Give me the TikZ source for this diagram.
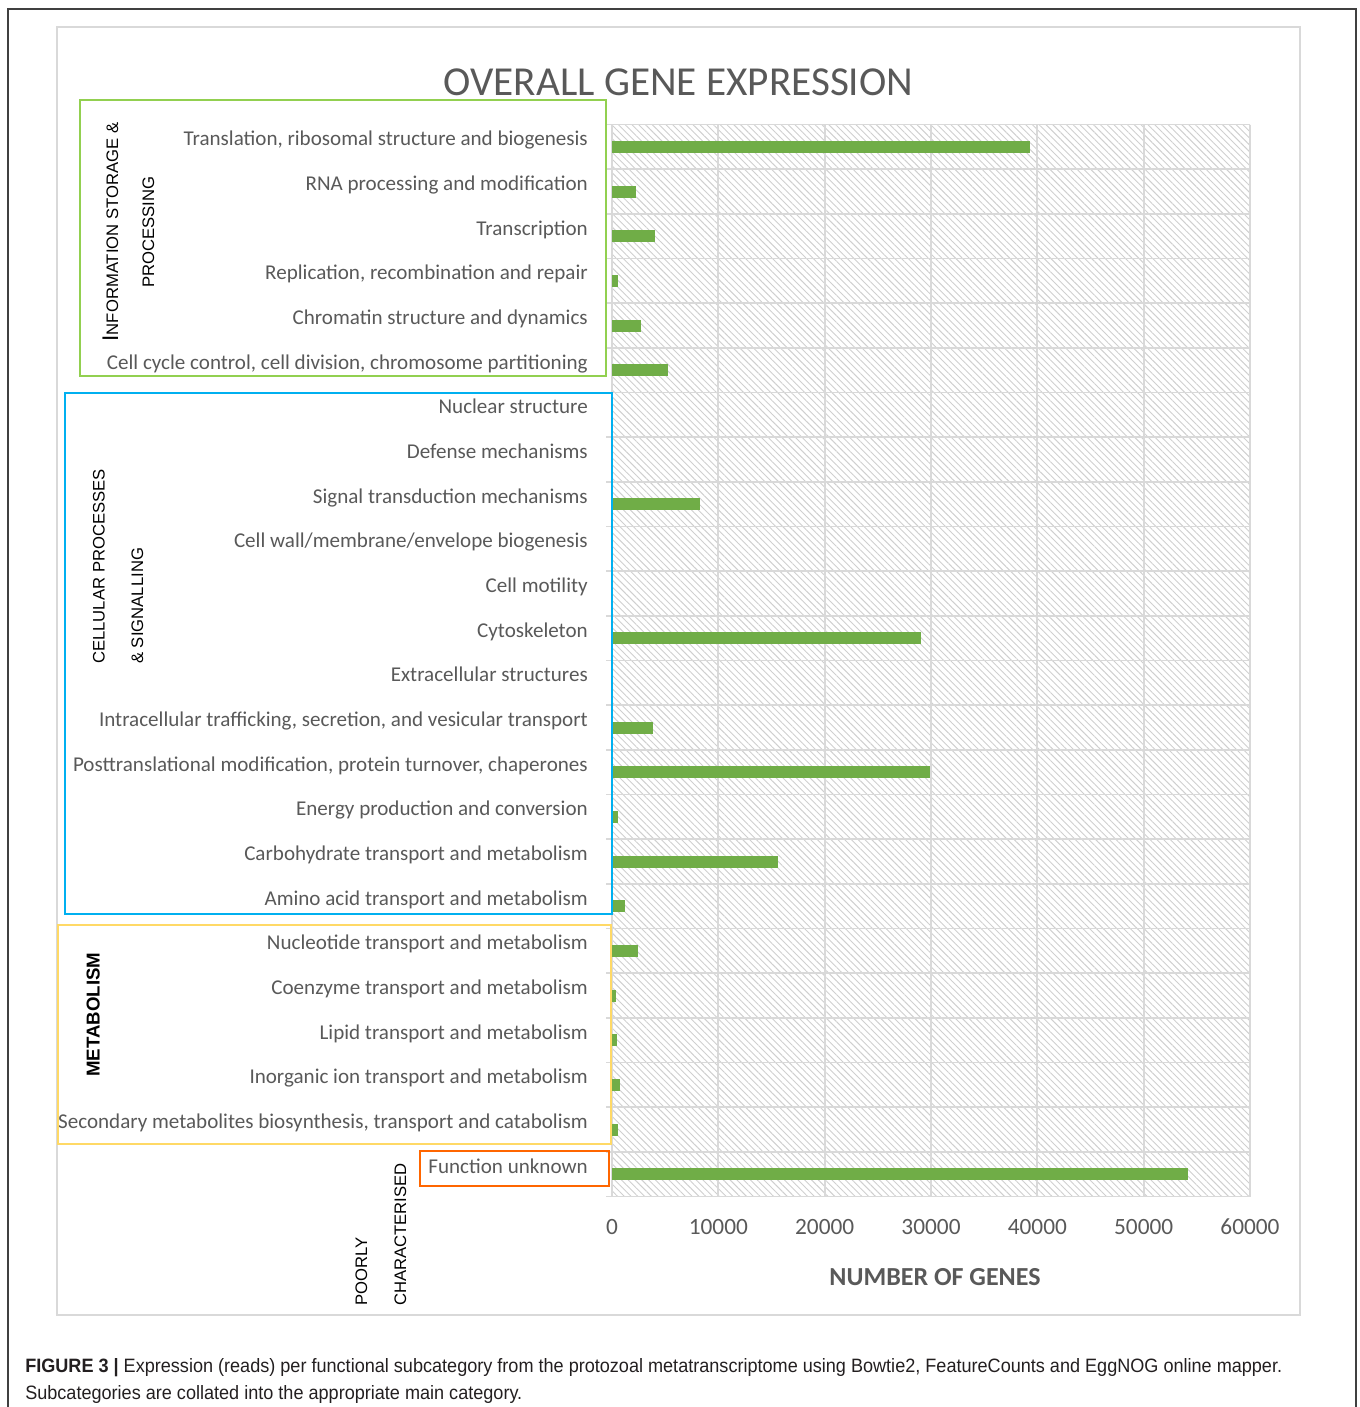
\documentclass[tikz,border=0pt]{standalone}
\usepackage{fontspec}
\setmainfont{Carlito}
\newfontfamily\arialFont{Liberation Sans}
\newfontfamily\captionFont[FakeStretch=0.935]{Liberation Sans}
\usetikzlibrary{patterns.meta}
\usepackage{xcolor}
\definecolor{barGreen}{HTML}{70AD47}
\definecolor{gridGrey}{HTML}{D9D9D9}
\definecolor{hatchGrey}{HTML}{CFCFCF}
\definecolor{textGrey}{HTML}{595959}
\definecolor{infoGreen}{HTML}{92D050}
\definecolor{cellBlue}{HTML}{00B0F0}
\definecolor{metaYellow}{HTML}{FFD966}
\definecolor{poorOrange}{HTML}{FF6600}
\definecolor{frameGrey}{HTML}{404040}
\definecolor{captionBlack}{HTML}{231F20}
\tikzset{
  catLabel/.style={
    anchor=base east,
    inner sep=0pt,
    text=textGrey,
    font=\fontsize{15.8}{18}\selectfont
  }
}
\tikzset{
  tickLabel/.style={
    anchor=base,
    inner sep=0pt,
    text=textGrey,
    font=\fontsize{17.5}{20}\selectfont
  }
}
\tikzset{
  groupLabel/.style={
    rotate=90,
    inner sep=0pt,
    text=black,
    font=\arialFont\fontsize{12.5}{15}\selectfont
  }
}
\tikzset{
  captionLine/.style={
    anchor=base west,
    inner sep=0pt,
    text=captionBlack,
    font=\captionFont\fontsize{14.5}{18}\selectfont
  }
}
\tikzset{
  groupBox/.style={
    line width=2.2pt
  }
}
\tikzset{
  gridLine/.style={
    draw=gridGrey,
    line width=1.4pt
  }
}

\begin{document}
\begin{tikzpicture}[x=0.75pt, y=-0.75pt]
  \useasboundingbox (0,0) rectangle (1360,1407);
  \draw[frameGrey, line width=1.1pt] (8,1420) -- (8,9) -- (1356,9) -- (1356,1420);
  \draw[gridGrey, line width=1.5pt] (57,27) rectangle (1300,1315);
  \node[text=textGrey, font=\fontsize{30.9}{36}\selectfont, anchor=base, inner sep=0pt]
    (title) at (678.5,95) {OVERALL GENE EXPRESSION};
  \fill[pattern={Lines[angle=-45,distance=3.6pt,line width=0.7pt]}, pattern color=hatchGrey]
    (612,124.5) rectangle (1250,1196.5);
  \foreach \k in {0,...,24}
    \draw[gridLine] (606,124.5+\k*44.667) -- (1250,124.5+\k*44.667);
  \foreach \v [count=\k from 0] in {0,10000,20000,30000,40000,50000,60000} {
    \draw[gridLine] (612+\k*106.33,124.5) -- (612+\k*106.33,1196.5);
    \node[tickLabel] (tick\k) at (612+\k*106.33,1234) {\v};
  }
  % values in thousands of genes
  \foreach \lab/\val [count=\i] in {
    {Translation, ribosomal structure and biogenesis}/39.3,
    {RNA processing and modification}/2.23,
    {Transcription}/4.0,
    {Replication, recombination and repair}/0.55,
    {Chromatin structure and dynamics}/2.7,
    {Cell cycle control, cell division, chromosome partitioning}/5.25,
    {Nuclear structure}/0,
    {Defense mechanisms}/0,
    {Signal transduction mechanisms}/8.31,
    {Cell wall/membrane/envelope biogenesis}/0,
    {Cell motility}/0,
    {Cytoskeleton}/29.1,
    {Extracellular structures}/0,
    {Intracellular trafficking, secretion, and vesicular transport}/3.87,
    {Posttranslational modification, protein turnover, chaperones}/29.94,
    {Energy production and conversion}/0.55,
    {Carbohydrate transport and metabolism}/15.62,
    {Amino acid transport and metabolism}/1.26,
    {Nucleotide transport and metabolism}/2.46,
    {Coenzyme transport and metabolism}/0.4,
    {Lipid transport and metabolism}/0.51,
    {Inorganic ion transport and metabolism}/0.75,
    {Secondary metabolites biosynthesis, transport and catabolism}/0.59,
    {Function unknown}/54.17} {
    \pgfmathsetmacro{\yc}{124.5+(\i-0.5)*44.667}
    \fill[barGreen] (612,\yc-6) rectangle ({612+\val*10.6333},\yc+6);
    \node[catLabel] (cat\i) at (588,\yc-1) {\lab};
  }
  \draw[groupBox, infoGreen] (80,100) rectangle (606,376);
  \draw[groupBox, cellBlue] (65,393) rectangle (612,914);
  \draw[groupBox, metaYellow] (58,925) rectangle (611,1144);
  \draw[groupBox, poorOrange] (420,1151) rectangle (609,1186);
  \node[groupLabel, anchor=base] (infoA) at (118,232)
    {{\fontsize{17}{20}\selectfont I}NFORMATION STORAGE \&};
  \node[groupLabel, anchor=base] (infoB) at (154,232) {PROCESSING};
  \node[groupLabel, anchor=base west] (cellA) at (104.6,664) {CELLULAR PROCESSES};
  \node[groupLabel, anchor=base west] (cellB) at (143,664) {\& SIGNALLING};
  \node[groupLabel, anchor=base, font=\arialFont\bfseries\fontsize{14}{16}\selectfont]
    (meta) at (99.6,1014.5) {METABOLISM};
  \node[groupLabel, anchor=base west] (poorA) at (367,1306) {POORLY};
  \node[groupLabel, anchor=base west] (poorB) at (406,1306) {CHARACTERISED};
  \node[text=textGrey, font=\bfseries\fontsize{19.5}{22}\selectfont, anchor=base, inner sep=0pt]
    (xTitle) at (935,1285) {NUMBER OF GENES};
  \node[captionLine] (capA) at (25,1372.5) {\textbf{FIGURE 3 |} Expression (reads) per functional subcategory from the protozoal metatranscriptome using Bowtie2, FeatureCounts and EggNOG online mapper.};
  \node[captionLine] (capB) at (25,1399) {Subcategories are collated into the appropriate main category.};
\end{tikzpicture}
\end{document}
